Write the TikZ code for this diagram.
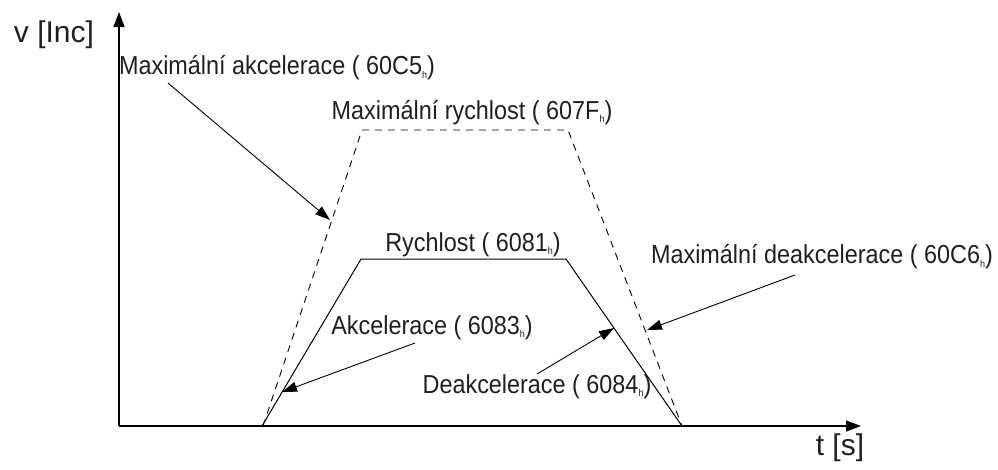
\documentclass[tikz,border=0pt]{standalone}
\usepackage{fontspec}
\setmainfont{Liberation Sans}
\newfontfamily\narrowfont{Liberation Sans}[FakeStretch=0.9]
\usetikzlibrary{arrows.meta}
\newcommand\subh{\raisebox{-0.12em}{\fontsize{10}{10}\selectfont h}}
\begin{document}
\begin{tikzpicture}[x=1pt,y=-1pt,
  axis/.style={line width=1.4pt,-{Triangle[length=15pt,width=11pt]}},
  profile/.style={line width=1pt},
  limit/.style={line width=0.9pt,dash pattern=on 7pt off 6pt},
  pointer/.style={line width=0.9pt,-{Triangle[length=15pt,width=10pt]}},
  lbl/.style={inner sep=0pt,font=\narrowfont\fontsize{26}{30}\selectfont,text=black!88},
  axlbl/.style={inner sep=0pt,font=\fontsize{30}{34}\selectfont,text=black!88}]
\useasboundingbox (0,0) rectangle (998,469);
% axes
\coordinate (O) at (119,426);
\coordinate (ytip) at (119,12);
\coordinate (xtip) at (861,426);
\draw[axis] (O) -- (ytip);
\draw[axis] (O) -- (xtip);
\node[axlbl] (vlab) at (54,35) {v [Inc]};
\node[axlbl] (tlab) at (840,448) {t [s]};
% actual velocity profile
\coordinate (s1) at (262,426);
\coordinate (s2) at (361,259);
\coordinate (s3) at (566,259);
\coordinate (s4) at (682,426);
\draw[profile] (s1) -- (s2) -- (s3) -- (s4);
% limiting profile
\coordinate (d1) at (263,426);
\coordinate (d2) at (362,130);
\coordinate (d3) at (568,130);
\coordinate (d4) at (682,426);
\draw[limit] (d1) -- (d2) -- (d3) -- (d4);
% labels
\node[lbl] (maxacc) at (277,68) {Maximální akcelerace ( 60C5\subh)};
\node[lbl] (maxvel) at (472,113) {Maximální rychlost ( 607F\subh)};
\node[lbl] (vel) at (473,245) {Rychlost ( 6081\subh)};
\node[lbl] (acc) at (432,328) {Akcelerace ( 6083\subh)};
\node[lbl] (dec) at (537,387) {Deakcelerace ( 6084\subh)};
\node[lbl] (maxdec) at (822,257) {Maximální deakcelerace ( 60C6\subh)};
% pointers
\coordinate (pa0) at (168,83);  \coordinate (pa1) at (330,220);
\coordinate (pb0) at (415,343); \coordinate (pb1) at (282,392);
\coordinate (pc0) at (537,374); \coordinate (pc1) at (614,328);
\coordinate (pd0) at (795,275); \coordinate (pd1) at (647,330);
\draw[pointer] (pa0) -- (pa1);
\draw[pointer] (pb0) -- (pb1);
\draw[pointer] (pc0) -- (pc1);
\draw[pointer] (pd0) -- (pd1);
\end{tikzpicture}
\end{document}
